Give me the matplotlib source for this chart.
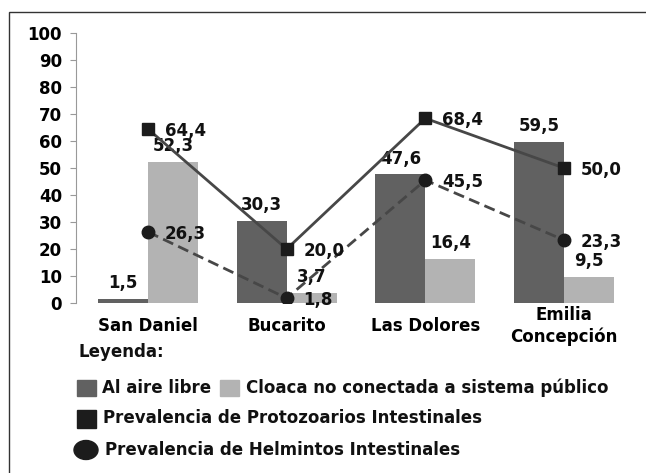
import numpy as np
import matplotlib; matplotlib.use("Agg")
import matplotlib.pyplot as plt
from matplotlib.patches import Rectangle, Ellipse

sitios = ['San Daniel', 'Bucarito', 'Las Dolores', 'Emilia\nConcepción']
aire_libre = [1.5, 30.3, 47.6, 59.5]
cloaca = [52.3, 3.7, 16.4, 9.5]
protozoarios = [64.4, 20.0, 68.4, 50.0]
helmintos = [26.3, 1.8, 45.5, 23.3]
yticks = list(range(0, 101, 10))

def fmt(v):
    return f'{v:.1f}'.replace('.', ',')

plt.rcParams['font.family'] = 'DejaVu Sans'
plt.rcParams['font.weight'] = 'bold'
FS = 12
W, H = 646, 473
fig = plt.figure(figsize=(W/100, H/100), dpi=100)
ax = fig.add_axes([76/W, 1-303/H, (636-76)/W, (303-33)/H])

x = np.arange(len(sitios)); w = 0.36
b1 = ax.bar(x-w/2, aire_libre, w, color='#616161', zorder=2)
b2 = ax.bar(x+w/2, cloaca, w, color='#b3b3b3', zorder=2)
ax.bar_label(b1, labels=[fmt(v) for v in aire_libre], padding=5, fontsize=FS, color='#111')
ax.bar_label(b2, labels=[fmt(v) for v in cloaca], padding=5, fontsize=FS, color='#111')

ax.plot(x, protozoarios, color='#474747', lw=2, marker='s', ms=9,
        mfc='#1c1c1c', mec='#1c1c1c', zorder=4)
ax.plot(x, helmintos, color='#474747', lw=2, ls=(0, (4, 2)), marker='o', ms=9,
        mfc='#1c1c1c', mec='#1c1c1c', zorder=4)
for xi, v in zip(x, protozoarios):
    ax.annotate(fmt(v), (xi, v), xytext=(12, -1.5), textcoords='offset points',
                ha='left', va='center', fontsize=FS, color='#111', zorder=5)
for xi, v in zip(x, helmintos):
    ax.annotate(fmt(v), (xi, v), xytext=(12, -1.5), textcoords='offset points',
                ha='left', va='center', fontsize=FS, color='#111', zorder=5)

ax.set_xlim(-0.52, 3.52); ax.set_ylim(0, 100)
ax.set_yticks(yticks)
ax.set_xticks(x)
ax.set_xticklabels(sitios, va='center', linespacing=1.2)
ax.tick_params(axis='x', length=0, pad=16.5, labelsize=FS)
ax.tick_params(axis='y', length=4, color='#999999', pad=6, labelsize=FS)
for s in ['top', 'right', 'bottom']:
    ax.spines[s].set_visible(False)
ax.spines['left'].set_color('#999999')

def px(xp, yp):
    return xp/W, 1-yp/H

fig.text(*px(78, 352), 'Leyenda:', ha='left', va='center', fontsize=FS, color='#111')
fig.patches.append(Rectangle(px(77, 396), 19/W, 16/H, color='#616161', transform=fig.transFigure))
fig.text(*px(102, 388), 'Al aire libre', ha='left', va='center', fontsize=FS, color='#111')
fig.patches.append(Rectangle(px(220, 396), 19/W, 16/H, color='#b3b3b3', transform=fig.transFigure))
fig.text(*px(246, 388), 'Cloaca no conectada a sistema público', ha='left', va='center', fontsize=FS, color='#111')
fig.patches.append(Rectangle(px(77, 428), 19/W, 18/H, color='#1c1c1c', transform=fig.transFigure))
fig.text(*px(103, 418), 'Prevalencia de Protozoarios Intestinales', ha='left', va='center', fontsize=FS, color='#111')
fig.patches.append(Ellipse(px(86, 450), 24/W, 19/H, color='#1c1c1c', transform=fig.transFigure))
fig.text(*px(105, 450), 'Prevalencia de Helmintos Intestinales', ha='left', va='center', fontsize=FS, color='#111')

fig.patches.append(Rectangle((9/W, -0.1), 1.2, 1.1-12/H, fill=False, edgecolor='#333333',
                             lw=1, transform=fig.transFigure))

fig.savefig('out.png', dpi=100)
